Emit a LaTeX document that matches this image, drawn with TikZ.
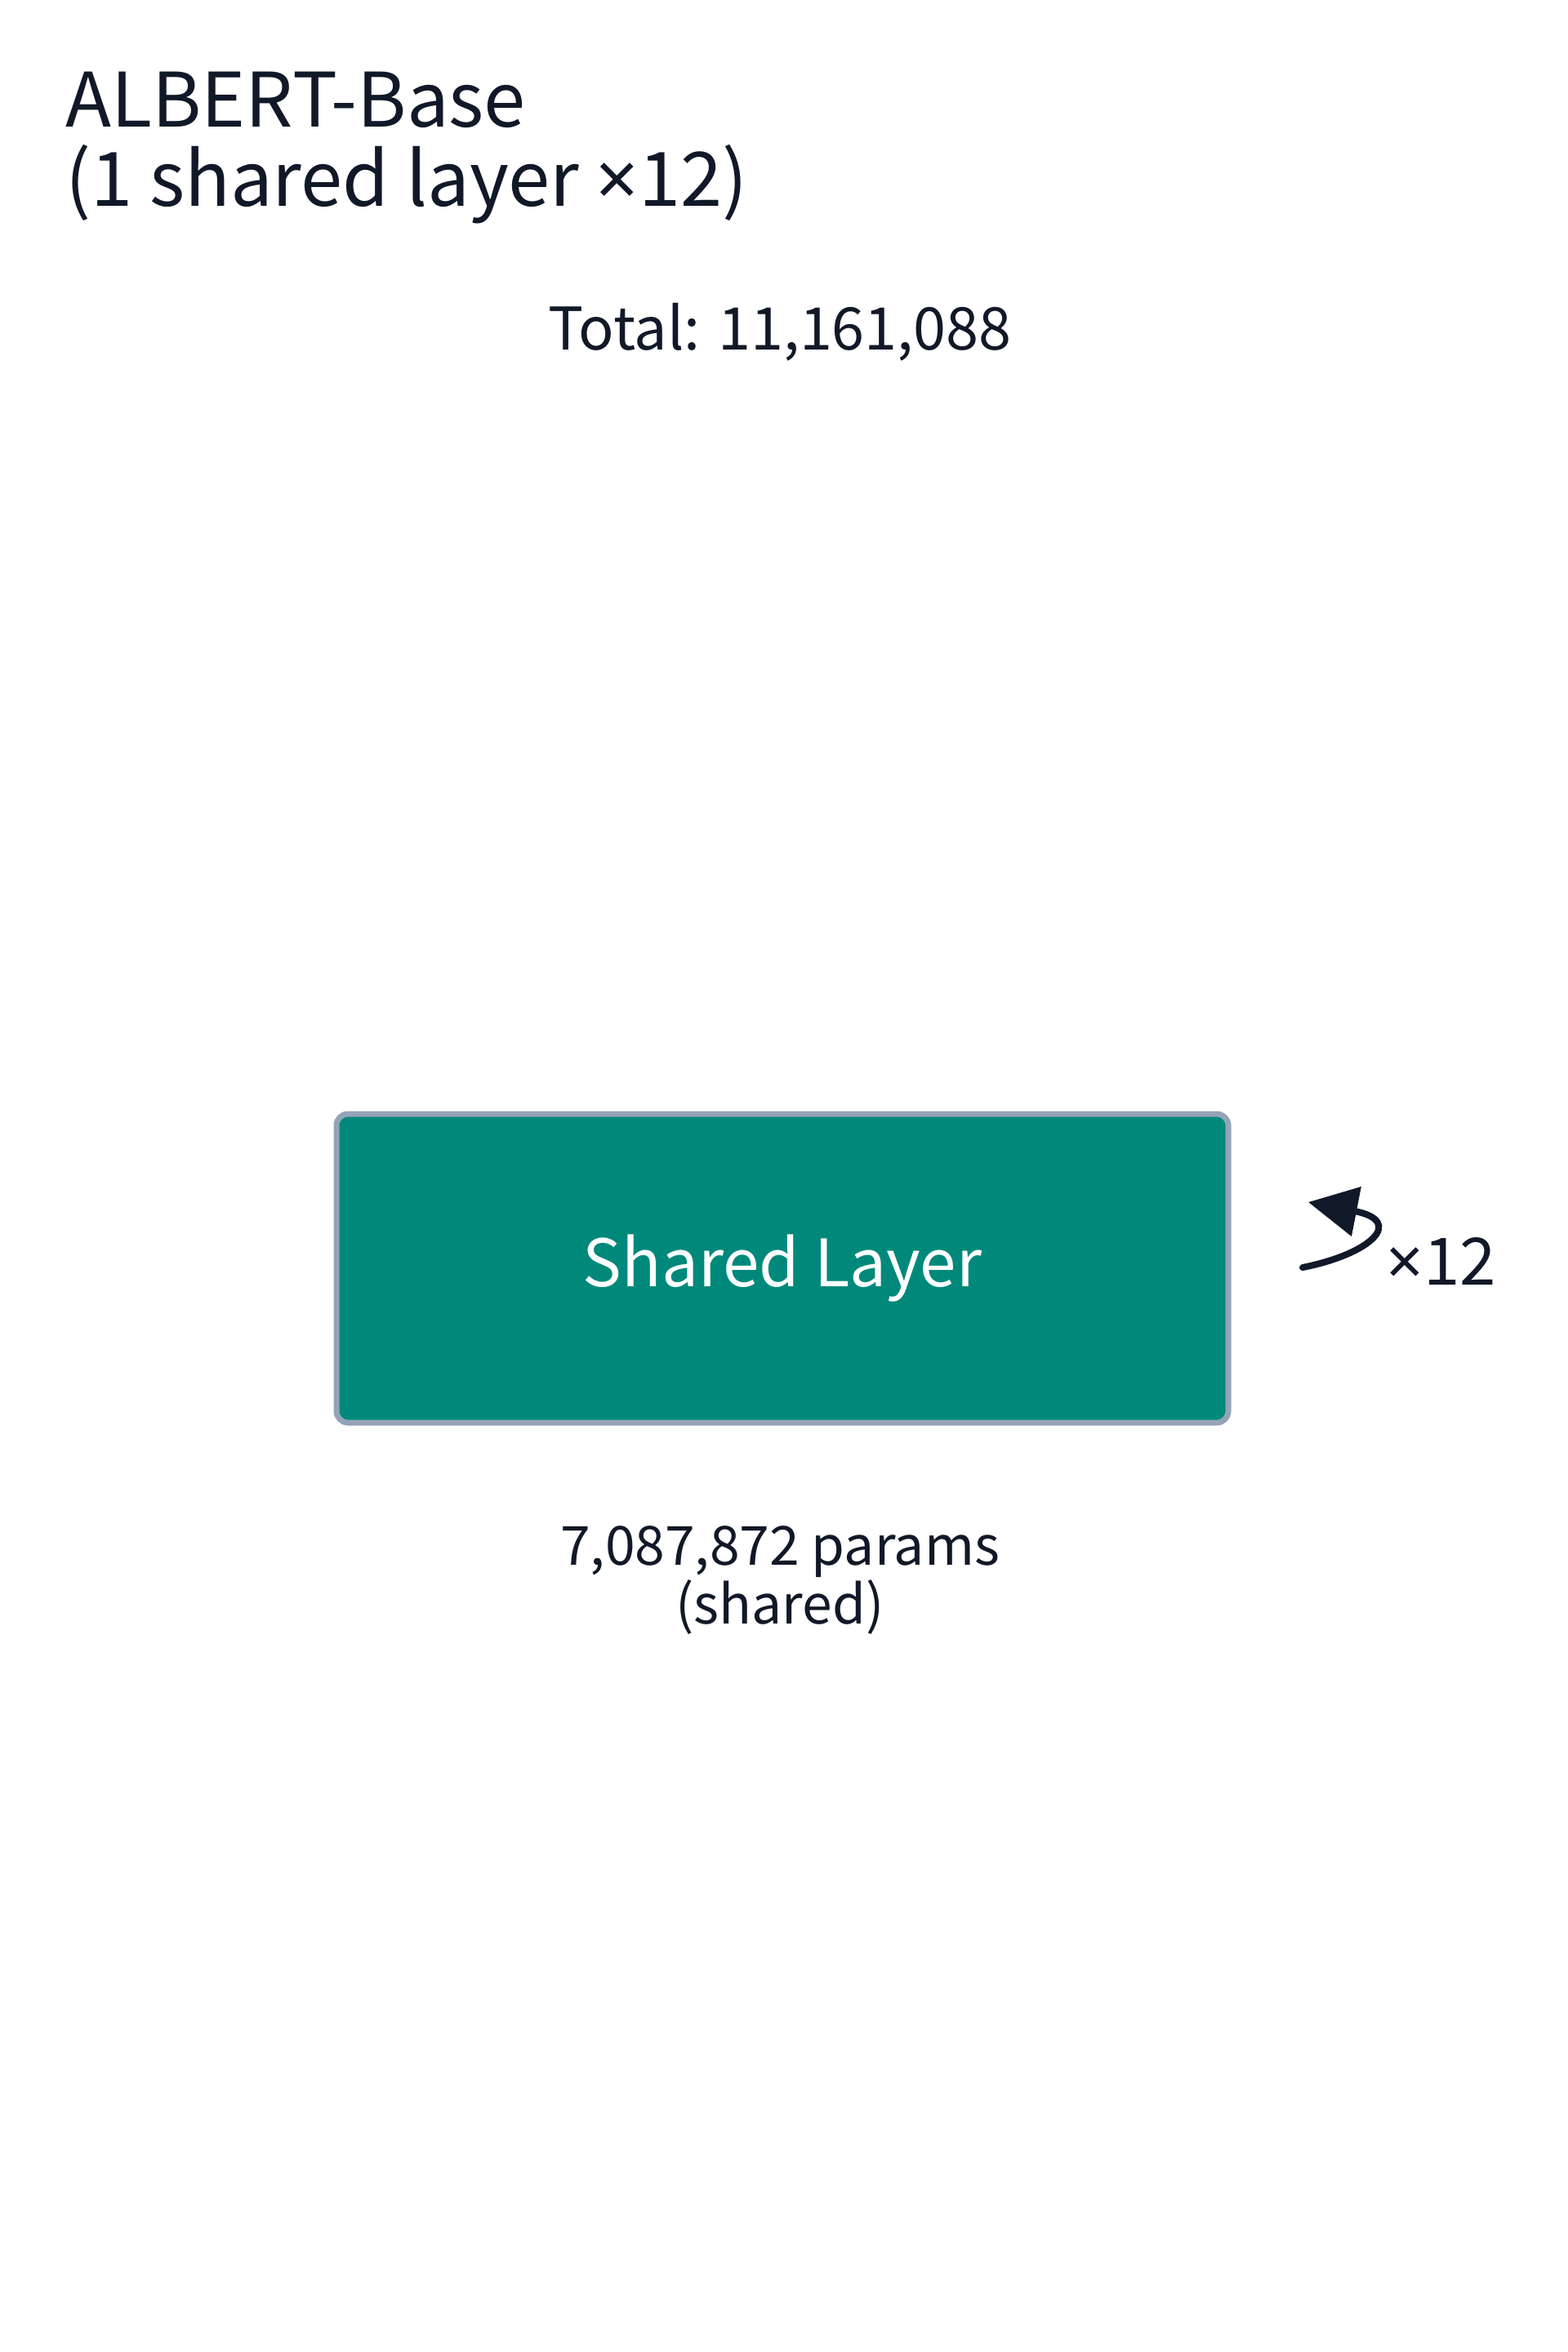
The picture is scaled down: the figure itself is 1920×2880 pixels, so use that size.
\documentclass[tikz,border=0pt]{standalone}
\usepackage{fontspec}
\setmainfont{Noto Sans CJK KR}
\newfontfamily\symfont{Noto Sans}
\usepackage{tikz}
\usetikzlibrary{arrows.meta}
\definecolor{ink}{HTML}{111827}
\definecolor{tealfill}{HTML}{00897B}
\definecolor{slateline}{HTML}{94A3B8}
\newcommand{\fsz}[2]{\fontsize{#1}{#2}\selectfont}
\newcommand{\tms}{{\symfont ×}}
\tikzset{
 layerbox/.style={draw=slateline, line width=3.5pt, fill=tealfill, rounded corners=7pt, minimum width=546pt, minimum height=189pt, text=white, font=\fsz{40}{48}},
 txt/.style={text=ink, inner sep=0pt}
}

\begin{document}
\begin{tikzpicture}[x=0.5pt,y=-0.5pt]
\useasboundingbox (0,0) rectangle (1920,2880);
\node[txt, anchor=base west, align=left, font=\fsz{46}{48.5}] (title) at (80,252) {ALBERT-Base\\(1 shared layer \tms12)};
\node[txt, anchor=base, font=\fsz{36}{44}] (total) at (955,428) {Total: 11,161,088};

\node[layerbox] (layer) at (958,1553) {Shared Layer};
\node[txt, anchor=base, align=center, font=\fsz{33}{32}] (params) at (955,1988) {7,087,872 params\\(shared)};

\node[txt, anchor=base west, font=\fsz{40}{48}] (rep) at (1697,1573) {\tms12};
\coordinate (r0) at (1595,1552);
\coordinate (r1) at (1602,1472);
\draw[ink, line width=4pt, line cap=round, -{Triangle[length=30pt,width=30pt]}] (r0) .. controls (1680,1535) and (1720,1495) .. (r1);
\end{tikzpicture}
\end{document}
